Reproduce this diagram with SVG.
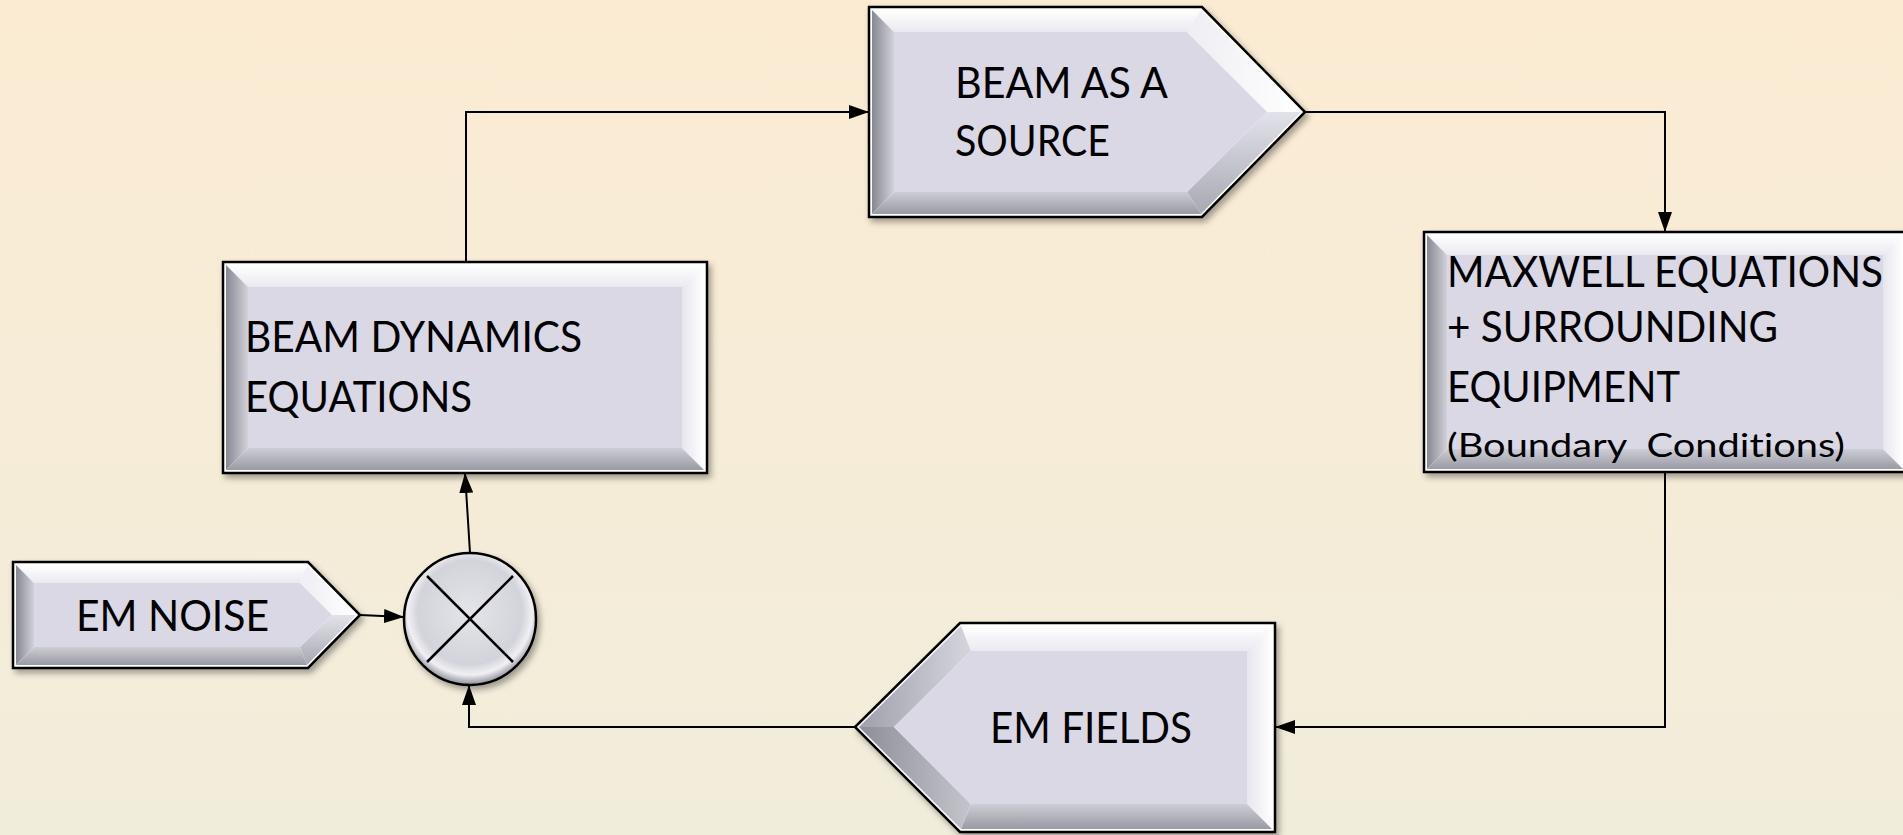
<svg xmlns="http://www.w3.org/2000/svg" width="1903" height="835" viewBox="0 0 1903 835">
<defs>
  <linearGradient id="bg" x1="0" y1="0" x2="0" y2="1">
    <stop offset="0" stop-color="#FBEBD3"/>
    <stop offset="1" stop-color="#F1EDDB"/>
  </linearGradient>
  <linearGradient id="gTop" x1="0" y1="0" x2="0" y2="1">
    <stop offset="0" stop-color="#FFFFFF"/>
    <stop offset="1" stop-color="#E9E9F0"/>
  </linearGradient>
  <linearGradient id="gRight" x1="0" y1="0" x2="1" y2="0">
    <stop offset="0" stop-color="#E6E6EE"/>
    <stop offset="1" stop-color="#FFFFFF"/>
  </linearGradient>
  <linearGradient id="gBottom" x1="0" y1="0" x2="0" y2="1">
    <stop offset="0" stop-color="#CDCDD6"/>
    <stop offset="1" stop-color="#9A9AA4"/>
  </linearGradient>
  <linearGradient id="gLeft" x1="0" y1="0" x2="1" y2="0">
    <stop offset="0" stop-color="#888892"/>
    <stop offset="1" stop-color="#D1D1DA"/>
  </linearGradient>
  <linearGradient id="gUR" x1="0" y1="0" x2="1" y2="0">
    <stop offset="0" stop-color="#EEEEF3"/>
    <stop offset="1" stop-color="#FFFFFF"/>
  </linearGradient>
  <linearGradient id="gLR" x1="0" y1="0" x2="0" y2="1">
    <stop offset="0" stop-color="#E2E2EA"/>
    <stop offset="1" stop-color="#A8A8B2"/>
  </linearGradient>
  <linearGradient id="gUL" x1="0" y1="0" x2="1" y2="0">
    <stop offset="0" stop-color="#A0A0AA"/>
    <stop offset="1" stop-color="#D5D5DE"/>
  </linearGradient>
  <linearGradient id="gLL" x1="0" y1="0" x2="1" y2="0">
    <stop offset="0" stop-color="#8E8E98"/>
    <stop offset="1" stop-color="#C4C4CD"/>
  </linearGradient>
  <radialGradient id="gCircle" cx="0.5" cy="0.45" r="0.55">
    <stop offset="0" stop-color="#E4E4EA"/>
    <stop offset="0.72" stop-color="#D3D3DB"/>
    <stop offset="0.86" stop-color="#F0F0F4"/>
    <stop offset="1" stop-color="#8C8C96"/>
  </radialGradient>
  <filter id="shadow" x="-10%" y="-10%" width="125%" height="130%">
    <feDropShadow dx="3" dy="4" stdDeviation="3" flood-color="#000" flood-opacity="0.35"/>
  </filter>
  <marker id="arrow" viewBox="0 0 20 14" refX="20" refY="7" markerWidth="20" markerHeight="14" markerUnits="userSpaceOnUse" orient="auto">
    <path d="M0,0 L20,7 L0,14 z" fill="#000"/>
  </marker>
</defs>
<style>
  .outer { fill: #FFFFFF; stroke: #000; stroke-width: 2.5; filter: url(#shadow); }
  .face { fill: #D9D8E4; }
  .label { font-family: Lato, "Liberation Sans", sans-serif; font-size: 42px; fill: #000; font-variant-ligatures: none; }
  .small { font-size: 32px; }
  .conn { fill: none; stroke: #000; stroke-width: 2; }
</style>

<rect x="0" y="0" width="1903" height="835" fill="url(#bg)"/>

<g id="connectors">
  <polyline class="conn" points="466,262 466,112 869,112" marker-end="url(#arrow)"/>
  <polyline class="conn" points="1305,112 1665,112 1665,232" marker-end="url(#arrow)"/>
  <polyline class="conn" points="1665,472 1665,727 1275,727" marker-end="url(#arrow)"/>
  <polyline class="conn" points="855,727 469,727 469,685" marker-end="url(#arrow)"/>
  <line class="conn" x1="360" y1="615" x2="404" y2="617" marker-end="url(#arrow)"/>
  <line class="conn" x1="470" y1="553" x2="465" y2="473" marker-end="url(#arrow)"/>
</g>

<g id="beam-source">
  <polygon class="outer" points="869,7 1202,7 1305,112 1202,217 869,217"/>
  <polygon fill="url(#gTop)" points="872,10 1201,10 1187,32 894,32"/>
  <polygon fill="url(#gUR)" points="1201,10 1301,112 1267,112 1187,32"/>
  <polygon fill="url(#gLR)" points="1301,112 1201,214 1187,192 1267,112"/>
  <polygon fill="url(#gBottom)" points="1201,214 872,214 894,192 1187,192"/>
  <polygon fill="url(#gLeft)" points="872,214 872,10 894,32 894,192"/>
  <polygon class="face" points="894,32 1187,32 1267,112 1187,192 894,192"/>
  <text class="label" x="955" y="98" textLength="213" lengthAdjust="spacingAndGlyphs">BEAM AS A</text>
  <text class="label" x="955" y="156" textLength="155" lengthAdjust="spacingAndGlyphs">SOURCE</text>
</g>

<g id="maxwell">
  <polygon class="outer" points="1424,232 1906,232 1906,472 1424,472"/>
  <polygon fill="url(#gTop)" points="1427,235 1903,235 1883,255 1447,255"/>
  <polygon fill="url(#gRight)" points="1903,235 1903,469 1883,449 1883,255"/>
  <polygon fill="url(#gBottom)" points="1903,469 1427,469 1447,449 1883,449"/>
  <polygon fill="url(#gLeft)" points="1427,469 1427,235 1447,255 1447,449"/>
  <rect class="face" x="1447" y="255" width="436" height="194"/>
  <text class="label" x="1447" y="287" textLength="436" lengthAdjust="spacingAndGlyphs">MAXWELL EQUATIONS</text>
  <text class="label" x="1447" y="342" textLength="331" lengthAdjust="spacingAndGlyphs">+ SURROUNDING</text>
  <text class="label" x="1447" y="402" textLength="233" lengthAdjust="spacingAndGlyphs">EQUIPMENT</text>
  <text class="label small" x="1447" y="457" textLength="398" lengthAdjust="spacingAndGlyphs" xml:space="preserve">(Boundary  Conditions)</text>
</g>

<g id="beam-dynamics">
  <polygon class="outer" points="223,262 707,262 707,473 223,473"/>
  <polygon fill="url(#gTop)" points="226,265 704,265 682,287 248,287"/>
  <polygon fill="url(#gRight)" points="704,265 704,470 682,448 682,287"/>
  <polygon fill="url(#gBottom)" points="704,470 226,470 248,448 682,448"/>
  <polygon fill="url(#gLeft)" points="226,470 226,265 248,287 248,448"/>
  <rect class="face" x="248" y="287" width="434" height="161"/>
  <text class="label" x="245" y="352" textLength="337" lengthAdjust="spacingAndGlyphs">BEAM DYNAMICS</text>
  <text class="label" x="245" y="412" textLength="227" lengthAdjust="spacingAndGlyphs">EQUATIONS</text>
</g>

<g id="em-noise">
  <polygon class="outer" points="13,562 308,562 360,615 308,668 13,668"/>
  <polygon fill="url(#gTop)" points="16,565 307,565 300,583 34,583"/>
  <polygon fill="url(#gUR)" points="307,565 356,615 332,615 300,583"/>
  <polygon fill="url(#gLR)" points="356,615 307,665 300,647 332,615"/>
  <polygon fill="url(#gBottom)" points="307,665 16,665 34,647 300,647"/>
  <polygon fill="url(#gLeft)" points="16,665 16,565 34,583 34,647"/>
  <polygon class="face" points="34,583 300,583 332,615 300,647 34,647"/>
  <text class="label" x="76" y="631" textLength="193" lengthAdjust="spacingAndGlyphs">EM NOISE</text>
</g>

<g id="multiplier">
  <circle cx="470" cy="619" r="66" fill="url(#gCircle)" stroke="#000" stroke-width="2.5" filter="url(#shadow)"/>
  <line x1="427" y1="576" x2="513" y2="662" stroke="#000" stroke-width="2.5"/>
  <line x1="513" y1="576" x2="427" y2="662" stroke="#000" stroke-width="2.5"/>
</g>

<g id="em-fields">
  <polygon class="outer" points="960,623 1275,623 1275,832 960,832 855,727"/>
  <polygon fill="url(#gTop)" points="961,626 1272,626 1247,651 971,651"/>
  <polygon fill="url(#gRight)" points="1272,626 1272,829 1247,804 1247,651"/>
  <polygon fill="url(#gBottom)" points="1272,829 961,829 971,804 1247,804"/>
  <polygon fill="url(#gLL)" points="961,829 859,727 894,727 971,804"/>
  <polygon fill="url(#gUL)" points="859,727 961,626 971,651 894,727"/>
  <polygon class="face" points="971,651 1247,651 1247,804 971,804 894,727"/>
  <text class="label" x="990" y="743" textLength="202" lengthAdjust="spacingAndGlyphs">EM FIELDS</text>
</g>
</svg>
